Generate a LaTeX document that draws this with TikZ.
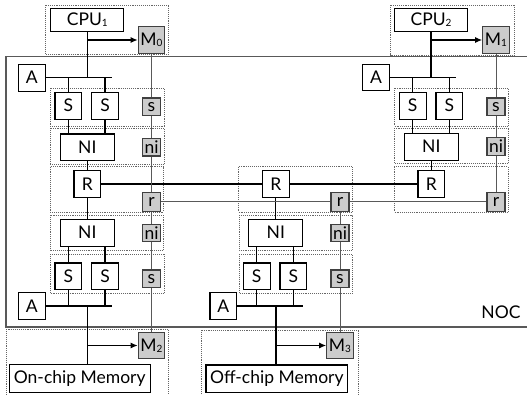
\documentclass[tikz,border=0pt]{standalone}
\usepackage{fontspec}
\setmainfont{Lato}
\usetikzlibrary{arrows.meta}
\newcommand{\lsub}[1]{\raisebox{-1pt}{\fontsize{10}{11}\selectfont #1}}

\begin{document}
\begin{tikzpicture}[x=1pt, y=-1pt,
  box/.style={draw, line width=1.1pt, fill=white, inner sep=0pt, font=\fontsize{17.5}{20}\selectfont},
  unit/.style={box, minimum width=26.7pt, minimum height=26.7pt},
  nibox/.style={box, minimum width=54pt, minimum height=26.7pt},
  gbox/.style={box, fill=gray!40, draw=black!75, minimum width=18pt, minimum height=17.5pt},
  mbox/.style={gbox, minimum width=26.5pt, minimum height=26.5pt},
  grp/.style={draw=black!60, densely dotted, line width=0.9pt},
  wire/.style={line width=1.2pt},
  gwire/.style={line width=1pt, draw=black!65},
  arr/.style={wire, -{Latex[length=7pt, width=6pt]}}]
  \clip (0,0) rectangle (527,394);

  % Groups
  \draw[grp] (45.7,5) rectangle (168.3,54);
  \draw[grp] (390.7,5) rectangle (514.3,55);
  \draw[grp] (50,88.3) rectangle (164.3,126);
  \draw[grp] (50,128.3) rectangle (164.3,164);
  \draw[grp] (50,166.7) rectangle (163.3,212);
  \draw[grp] (50,215.3) rectangle (163.3,250);
  \draw[grp] (50,254) rectangle (164.3,293.3);
  \draw[grp] (238.3,166.7) rectangle (352.3,212);
  \draw[grp] (239.3,215.3) rectangle (352.3,250);
  \draw[grp] (239.3,254) rectangle (352.3,293.3);
  \draw[grp] (394.3,88.3) rectangle (508.3,126);
  \draw[grp] (394.3,128) rectangle (508.3,163.3);
  \draw[grp] (394.3,166.7) rectangle (508,212);
  \draw[grp] (6,329.3) rectangle (168.3,400);
  \draw[grp] (201.7,330) rectangle (358.3,400);

  % NOC border
  \draw[draw=black!65, line width=1.2pt] (6,56.7) rectangle (540,327);
  \node[font=\fontsize{17.5}{20}\selectfont] (noc) at (501,312.5) {NOC};

  % Processors and memories
  \node[box, minimum width=73pt, minimum height=23.5pt] (cpu1) at (87.3,20) {CPU\lsub{1}};
  \node[box, minimum width=73pt, minimum height=23.5pt] (cpu2) at (431,20) {CPU\lsub{2}};
  \node[mbox] (m0) at (151.5,40) {M\lsub{0}};
  \node[mbox] (m1) at (496,40) {M\lsub{1}};
  \node[mbox] (m2) at (151.5,345.5) {M\lsub{2}};
  \node[mbox] (m3) at (340,345.5) {M\lsub{3}};
  \node[box, minimum width=140.7pt, minimum height=28.4pt] (onmem) at (79.7,378.5) {On-chip Memory};
  \node[box, minimum width=141.7pt, minimum height=27.7pt] (offmem) at (276.8,378.8) {Off-chip Memory};

  % Arbiters
  \node[unit] (a1) at (31.7,77.7) {A};
  \node[unit] (a2) at (376,77.5) {A};
  \node[unit] (a3) at (31.7,306) {A};
  \node[unit] (a4) at (223.3,306) {A};

  % Slaves
  \node[unit] (s1a) at (68.3,105.7) {S};
  \node[unit] (s1b) at (105,105.7) {S};
  \node[unit] (s2a) at (412.7,105.7) {S};
  \node[unit] (s2b) at (449.3,105.7) {S};
  \node[unit] (s3a) at (68.3,276.3) {S};
  \node[unit] (s3b) at (105,276.3) {S};
  \node[unit] (s4a) at (256.7,276.3) {S};
  \node[unit] (s4b) at (293.3,276.3) {S};
  \node[gbox] (gs1) at (151.5,106.7) {s};
  \node[gbox] (gs2) at (496,106.7) {s};
  \node[gbox] (gs3) at (151.5,278.7) {s};
  \node[gbox] (gs4) at (340,278.7) {s};

  % Network interfaces
  \node[nibox] (ni1) at (87.3,147.3) {NI};
  \node[nibox] (ni2) at (431.3,146.7) {NI};
  \node[nibox] (ni3) at (87.3,232.7) {NI};
  \node[nibox] (ni4) at (275.8,232.7) {NI};
  \node[gbox] (gni1) at (151.5,147.2) {ni};
  \node[gbox] (gni2) at (496,146.5) {ni};
  \node[gbox] (gni3) at (151.5,233) {ni};
  \node[gbox] (gni4) at (340,233) {ni};

  % Routers
  \node[unit] (rou1) at (87.3,184) {R};
  \node[unit] (rou2) at (275.8,184) {R};
  \node[unit] (rou3) at (431.3,184) {R};
  \node[gbox, minimum height=18.7pt] (gr1) at (151.5,201.7) {r};
  \node[gbox, minimum height=18.7pt] (gr2) at (340,201.7) {r};
  \node[gbox, minimum height=18.7pt] (gr3) at (496,201.7) {r};

  % Bus ends and junctions
  \coordinate (b1end) at (111.7,77.7);
  \coordinate (b2end) at (456,77.5);
  \coordinate (b3end) at (111.7,306);
  \coordinate (b4end) at (303.3,306);
  \coordinate (j3) at (87.3,306);
  \coordinate (j4) at (276,306);

  % Upper left
  \draw[wire] (a1) -- (b1end);
  \draw[wire] (cpu1) -- (cpu1 |- b1end);
  \draw[arr] (cpu1 |- m0) -- (m0);
  \foreach \s in {s1a,s1b} {
    \draw[wire] (\s) -- (\s |- b1end);
    \draw[wire] (\s.south) -- (\s.south |- ni1.north);
  }
  \draw[wire] (ni1) -- (rou1) -- (ni3);

  % Upper right
  \draw[wire] (a2) -- (b2end);
  \draw[wire] (cpu2) -- (cpu2 |- b2end);
  \draw[arr] (cpu2 |- m1) -- (m1);
  \foreach \s in {s2a,s2b} {
    \draw[wire] (\s) -- (\s |- b2end);
    \draw[wire] (\s.south) -- (\s.south |- ni2.north);
  }
  \draw[wire] (ni2) -- (rou3);

  % Lower left
  \foreach \s in {s3a,s3b} {
    \draw[wire] (\s) -- (\s |- b3end);
    \draw[wire] (\s.north) -- (\s.north |- ni3.south);
  }
  \draw[wire] (a3) -- (b3end);
  \draw[wire] (j3) -- (j3 |- onmem.north);
  \draw[arr] (j3 |- m2) -- (m2);

  % Lower middle
  \draw[wire] (rou2) -- (ni4);
  \foreach \s in {s4a,s4b} {
    \draw[wire] (\s) -- (\s |- b4end);
    \draw[wire] (\s.north) -- (\s.north |- ni4.south);
  }
  \draw[wire] (a4) -- (b4end);
  \draw[wire] (j4) -- (j4 |- offmem.north);
  \draw[arr] (j4 |- m3) -- (m3);

  % Router links
  \draw[wire] (rou1) -- (rou2) -- (rou3);
  \draw[gwire] (gr1) -- (gr2) -- (gr3);

  % Memory paths
  \draw[gwire] (m0) -- (gs1) -- (gni1) -- (gr1) -- (gni3) -- (gs3) -- (m2);
  \draw[gwire] (m1) -- (gs2) -- (gni2) -- (gr3);
  \draw[gwire] (gr2) -- (gni4) -- (gs4) -- (m3);
\end{tikzpicture}
\end{document}
